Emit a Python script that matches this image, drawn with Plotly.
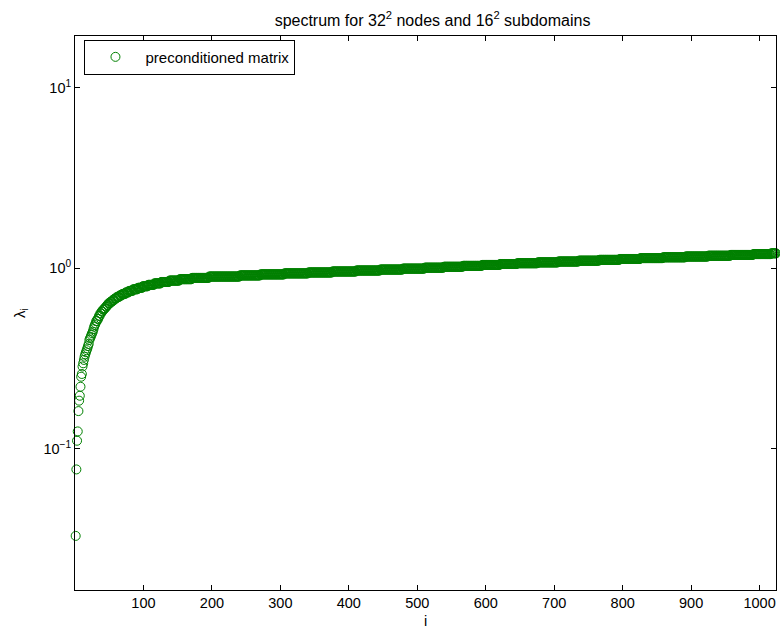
import numpy as np
import plotly.graph_objects as go

# Eigenvalues: the first ones individually,
# the dense band as (value, how many consecutive eigenvalues at that level)
first_vals = [0.033, 0.077, 0.111, 0.125, 0.162, 0.185, 0.197, 0.221, 0.251, 0.260,
              0.286, 0.298, 0.311, 0.324, 0.334, 0.343, 0.352, 0.360, 0.371, 0.381,
              0.401, 0.410, 0.418, 0.428, 0.437, 0.446, 0.460, 0.475, 0.485, 0.495]
band_vals = [0.51, 0.525, 0.545, 0.563, 0.577, 0.59, 0.60, 0.613, 0.625, 0.64,
             0.653, 0.667, 0.68, 0.693, 0.707, 0.72, 0.735, 0.75, 0.765, 0.78,
             0.795, 0.81, 0.825, 0.84, 0.855, 0.87, 0.885, 0.90, 0.913, 0.925,
             0.937, 0.948, 0.96, 0.972, 0.984, 0.996, 1.008, 1.02, 1.032, 1.044,
             1.056, 1.066, 1.078, 1.09, 1.102, 1.114, 1.126, 1.138, 1.15, 1.162,
             1.174, 1.186, 1.198, 1.21]
band_counts = [2, 2, 2, 2, 2, 2, 2, 2, 2, 3,
               3, 3, 3, 4, 4, 5, 5, 6, 7, 7,
               8, 9, 10, 12, 15, 18, 25, 45, 30, 35,
               35, 35, 35, 35, 33, 32, 28, 28, 28, 26,
               25, 30, 30, 30, 30, 30, 30, 33, 33, 33,
               33, 33, 26, 8]

eig = np.concatenate([np.array(first_vals), np.repeat(band_vals, band_counts)])
idx = np.arange(1, len(eig) + 1)

x_ticks = [100, 200, 300, 400, 500, 600, 700, 800, 900, 1000]
y_ticks = [0.1, 1, 10]
y_ticktext = ["10<sup>\u22121</sup>", "10<sup>0</sup>", "10<sup>1</sup>"]

green = "#008000"
font = "Liberation Sans, Arial, Helvetica, sans-serif"

fig = go.Figure()
fig.add_trace(go.Scatter(
    x=idx, y=eig, mode="markers", name="preconditioned matrix",
    marker=dict(symbol="circle-open", size=9, color=green, line=dict(width=1, color=green)),
    cliponaxis=False,
))

fig.update_layout(
    width=780, height=629,
    margin=dict(l=75, r=4, t=36, b=39, autoexpand=False),
    paper_bgcolor="white", plot_bgcolor="white",
    font=dict(family=font, size=14.5, color="black"),
    title=dict(text="spectrum for 32<sup>2</sup> nodes and 16<sup>2</sup> subdomains",
               x=0.51, xref="paper", xanchor="center",
               y=1 - 20 / 629, yref="container", yanchor="middle",
               font=dict(size=16, family=font, color="black")),
    showlegend=True,
    legend=dict(x=0.0135, y=0.9935, xanchor="left", yanchor="top",
                bgcolor="white", bordercolor="black", borderwidth=1,
                font=dict(size=15, family=font), itemwidth=50),
)
fig.update_xaxes(
    range=[0, 1024], tickvals=x_ticks, ticks="inside", ticklen=5, tickwidth=1,
    tickcolor="black", showline=True, linecolor="black", linewidth=1, mirror="ticks",
    showgrid=False, zeroline=False, automargin=False,
    title=dict(text="i", standoff=8, font=dict(size=14.5, color="black")),
)
fig.update_yaxes(
    type="log", range=[-1.781, 1.286], tickvals=y_ticks, ticktext=y_ticktext,
    ticks="inside", ticklen=5, tickwidth=1, tickcolor="black",
    showline=True, linecolor="black", linewidth=1, mirror="ticks",
    showgrid=False, zeroline=False, automargin=False,
    title=dict(text="\u03bb<sub>i</sub>", standoff=14, font=dict(size=15, color="black")),
)

fig.write_html("out.html", config={"staticPlot": True, "displayModeBar": False},
               post_script="document.body.style.margin='0';")
